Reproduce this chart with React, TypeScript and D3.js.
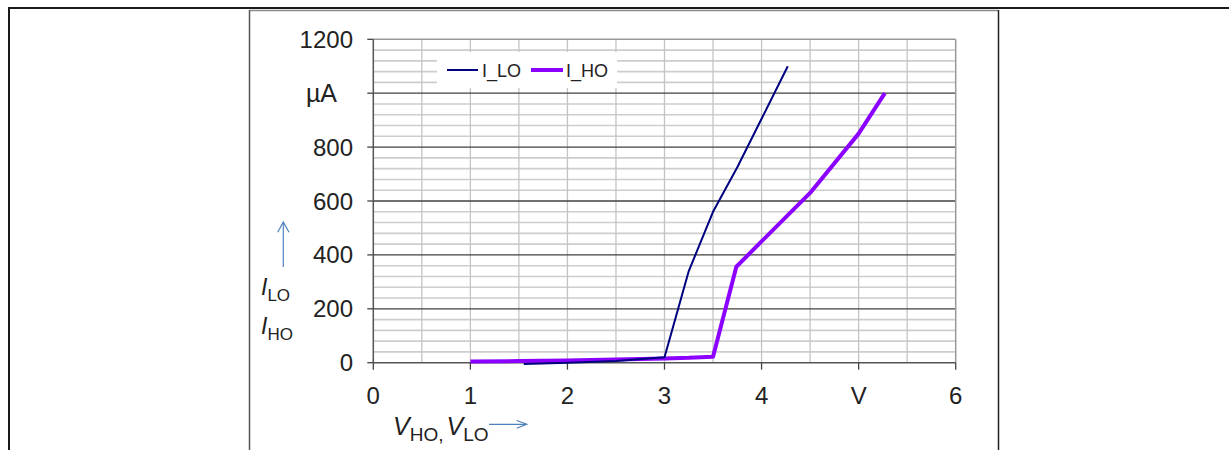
import React from "react";
import * as d3 from "d3";

// ---- data ----
const xTicks = [0, 1, 2, 3, 4, 5, 6];
const xTickLabels = ["0", "1", "2", "3", "4", "V", "6"];
const yTicks = [0, 200, 400, 600, 800, 1000, 1200];
const yTickLabels = ["0", "200", "400", "600", "800", "µA", "1200"];

const iloX = [1.55, 2.0, 2.5, 3.0, 3.25, 3.5, 3.75, 4.0, 4.27];
const iloY = [-5, 0, 6, 20, 340, 560, 725, 905, 1100];

const ihoX = [1.0, 1.5, 2.0, 2.5, 3.0, 3.25, 3.5, 3.74, 4.0, 4.5, 5.0, 5.27];
const ihoY = [4, 6, 8, 12, 16, 18, 22, 356, 450, 630, 850, 1000];

const seriesNames = ["I_LO", "I_HO"];
const seriesColors = ["#000080", "#8c00ff"];

const FONT = "'Liberation Sans', Arial, sans-serif";

export default function App() {
  const x = d3.scaleLinear().domain([0, 6]).range([373.3, 955.7]);
  const y = d3.scaleLinear().domain([0, 1200]).range([362.7, 39.3]);

  const minorY = d3.range(0, 1201, 40).filter((v) => v % 200 !== 0);
  const vGrid = d3.range(0.5, 6, 0.5);

  const line = d3
    .line<[number, number]>()
    .x((d) => x(d[0]))
    .y((d) => y(d[1]));

  const ilo = iloX.map((v, i) => [v, iloY[i]] as [number, number]);
  const iho = ihoX.map((v, i) => [v, ihoY[i]] as [number, number]);

  const [x0, x1] = x.range();
  const [yb, yt] = y.range();

  return (
    <svg
      width={1229}
      height={450}
      style={{ position: "absolute", left: 0, top: 0, background: "#fff" }}
      fontFamily={FONT}
    >
      {/* outer frame */}
      <line x1={8} x2={1229} y1={8} y2={8} stroke="#1a1a1a" strokeWidth={2} />
      <line x1={9} x2={9} y1={7} y2={450} stroke="#1a1a1a" strokeWidth={2} />
      {/* inner chart box */}
      <line x1={249.5} x2={998} y1={10.5} y2={10.5} stroke="#8a8a8a" strokeWidth={1.5} />
      <line x1={249.5} x2={249.5} y1={10} y2={450} stroke="#555" strokeWidth={1.5} />
      <line x1={998.5} x2={998.5} y1={10} y2={450} stroke="#222" strokeWidth={1.5} />

      {/* minor horizontal grid */}
      {minorY.map((v) => (
        <line key={"my" + v} x1={x0} x2={x1} y1={y(v)} y2={y(v)} stroke="#cdcdcd" strokeWidth={1.6} />
      ))}
      {/* vertical grid */}
      {vGrid.map((v) => (
        <line key={"vg" + v} x1={x(v)} x2={x(v)} y1={yt} y2={yb} stroke="#c4c4c4" strokeWidth={1.3} />
      ))}
      {/* major horizontal grid */}
      {yTicks.filter((v) => v > 0 && v < 1200).map((v) => (
        <line key={"My" + v} x1={x0} x2={x1} y1={y(v)} y2={y(v)} stroke="#404040" strokeWidth={1.3} />
      ))}
      {/* plot border top/right */}
      <line x1={x0} x2={x1} y1={yt} y2={yt} stroke="#999" strokeWidth={1.5} />
      <line x1={x1} x2={x1} y1={yt} y2={yb} stroke="#999" strokeWidth={1.5} />

      {/* axes */}
      <line x1={x0} x2={x0} y1={yt} y2={yb} stroke="#555" strokeWidth={1.5} />
      <line x1={x0} x2={x1} y1={yb} y2={yb} stroke="#555" strokeWidth={1.5} />
      {yTicks.map((v) => (
        <line key={"yt" + v} x1={x0 - 6} x2={x0} y1={y(v)} y2={y(v)} stroke="#444" strokeWidth={1.3} />
      ))}
      {xTicks.map((v) => (
        <line key={"xt" + v} x1={x(v)} x2={x(v)} y1={yb} y2={yb + 7} stroke="#444" strokeWidth={1.3} />
      ))}

      {/* tick labels */}
      {yTicks.map((v, i) =>
        yTickLabels[i] === "µA" ? (
          <text key={"yl" + v} x={321.5} y={y(v) + 8.5} fontSize={25} textAnchor="middle" fill="#222">
            {yTickLabels[i]}
          </text>
        ) : (
          <text key={"yl" + v} x={353} y={y(v) + 8.5} fontSize={24} textAnchor="end" fill="#222">
            {yTickLabels[i]}
          </text>
        )
      )}
      {xTicks.map((v, i) => (
        <text key={"xl" + v} x={x(v)} y={403.5} fontSize={24} textAnchor="middle" fill="#222">
          {xTickLabels[i]}
        </text>
      ))}

      {/* series */}
      <path d={line(iho) || ""} fill="none" stroke={seriesColors[1]} strokeWidth={4} strokeLinejoin="round" />
      <path d={line(ilo) || ""} fill="none" stroke={seriesColors[0]} strokeWidth={2} strokeLinejoin="round" />

      {/* legend */}
      <rect x={437} y={52} width={180} height={36} fill="#fff" />
      <line x1={447} x2={478} y1={70} y2={70} stroke={seriesColors[0]} strokeWidth={2} />
      <text x={482} y={76.5} fontSize={18} fill="#222">{seriesNames[0]}</text>
      <line x1={531} x2={563} y1={70} y2={70} stroke={seriesColors[1]} strokeWidth={4} />
      <text x={566} y={76.5} fontSize={18} fill="#222">{seriesNames[1]}</text>

      {/* y axis title */}
      <g stroke="#4f81bd" strokeWidth={1.2} fill="none">
        <line x1={283.3} x2={283.3} y1={267} y2={222} />
        <polyline points="277.7,232.3 283.3,222 289,232.3" />
      </g>
      <text x={261} y={294.5} fontSize={23} fill="#222">
        <tspan fontStyle="italic">I</tspan>
        <tspan fontSize={17} dy={6.5}>LO</tspan>
      </text>
      <text x={261} y={333.5} fontSize={23} fill="#222">
        <tspan fontStyle="italic">I</tspan>
        <tspan fontSize={17} dy={6.5}>HO</tspan>
      </text>

      {/* x axis title */}
      <text x={393} y={434.5} fontSize={25} fill="#222">
        <tspan fontStyle="italic">V</tspan>
        <tspan fontSize={19} dy={6.5}>HO,</tspan>
        <tspan fontStyle="italic" fontSize={25} dy={-6.5} dx={3}>V</tspan>
        <tspan fontSize={19} dy={6.5}>LO</tspan>
      </text>
      <g stroke="#4f81bd" strokeWidth={1.2} fill="none">
        <line x1={489} x2={526.7} y1={424.3} y2={424.3} />
        <polyline points="516.7,420.5 526.7,424.3 516.7,428.3" />
      </g>
    </svg>
  );
}
